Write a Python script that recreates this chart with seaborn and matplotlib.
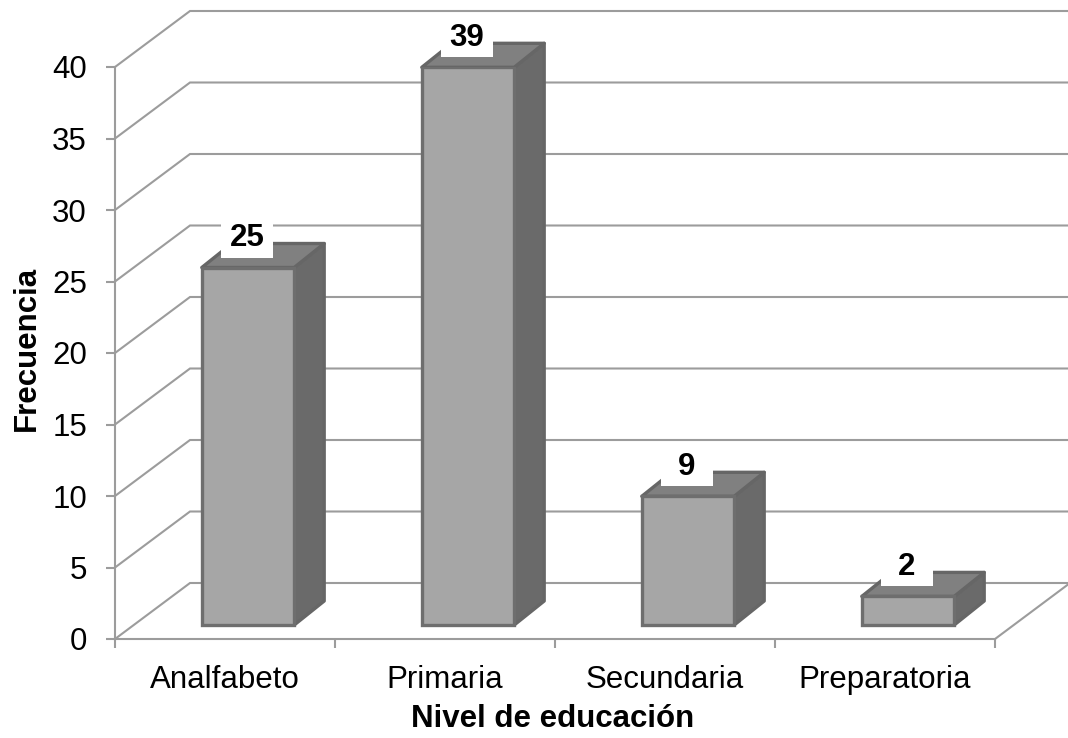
import matplotlib
matplotlib.use("Agg")
import numpy as np
import pandas as pd
import matplotlib.pyplot as plt
import matplotlib.transforms as mtransforms
from matplotlib.lines import Line2D
from matplotlib.patches import Polygon, Rectangle
import seaborn as sns

# Data
categories = ["Analfabeto", "Primaria", "Secundaria", "Preparatoria"]
frecuencias = [25, 39, 9, 2]
y_ticks = [0, 5, 10, 15, 20, 25, 30, 35, 40]

sns.set_theme(style="white")
plt.rcParams["font.family"] = ["Liberation Sans", "DejaVu Sans"]
plt.rcParams["text.color"] = "black"
plt.rcParams["axes.labelcolor"] = "black"

DPI = 100
W, H = 1068, 738
fig = plt.figure(figsize=(W / DPI, H / DPI), dpi=DPI)
fig.patch.set_facecolor("white")

# Front plane of the plot box in pixels
left_px, right_px, bottom_px, top_px = 115, 995, 639, 67
ax = fig.add_axes([left_px / W, (H - bottom_px) / H,
                   (right_px - left_px) / W, (bottom_px - top_px) / H])
ax.set_facecolor("none")

FS = 22.5
line_c = "#9c9c9c"
line_w = 1.5

# Depth of the box (pixels) and bar placement inside it
wall_depth = np.array([75.0, 56.0])
bar_front = np.array([23.0, 14.0])
bar_depth = np.array([30.0, 24.0])

df = pd.DataFrame({"nivel": categories, "frecuencia": frecuencias})
sns.barplot(data=df, x="nivel", y="frecuencia", order=categories,
            width=0.42, color="#a6a6a6", saturation=1, errorbar=None,
            edgecolor="#6e6e6e", linewidth=2.4, ax=ax, zorder=3.2)

ax.set_xlim(-0.5, 3.5)
ax.set_ylim(0, 40)

ident = mtransforms.IdentityTransform()


def to_px(x, y, shift=(0.0, 0.0)):
    p = ax.transData.transform((x, y))
    return p + np.asarray(shift)


# Back wall gridlines and left-wall diagonals
for yv in y_ticks:
    f = to_px(-0.5, yv)
    b = to_px(-0.5, yv, wall_depth)
    br = to_px(3.5, yv, wall_depth)
    ax.add_line(Line2D([f[0], b[0], br[0]], [f[1], b[1], br[1]],
                       transform=ident, color=line_c, lw=line_w,
                       clip_on=False, zorder=0.5, solid_joinstyle="miter"))

# Floor right edge
f = to_px(3.5, 0)
b = to_px(3.5, 0, wall_depth)
ax.add_line(Line2D([f[0], b[0]], [f[1], b[1]], transform=ident,
                   color=line_c, lw=line_w, clip_on=False, zorder=0.5))

# Bars: shift front faces into the box, then add top and side faces
bar_tr = ax.transData + mtransforms.Affine2D().translate(*bar_front)
top_c, side_c, edge_c = "#808080", "#6a6a6a", "#666666"
for patch in ax.patches:
    x0 = patch.get_x()
    x1 = x0 + patch.get_width()
    h = patch.get_height()
    patch.set_transform(bar_tr)
    fl = to_px(x0, h, bar_front)
    fr = to_px(x1, h, bar_front)
    br0 = to_px(x1, 0, bar_front)
    d = bar_depth
    top = Polygon([fl, fr, fr + d, fl + d], closed=True, transform=ident,
                  facecolor=top_c, edgecolor=edge_c, lw=2.4,
                  joinstyle="round", clip_on=False, zorder=3)
    side = Polygon([br0, fr, fr + d, br0 + d], closed=True, transform=ident,
                   facecolor=side_c, edgecolor=edge_c, lw=2.4,
                   joinstyle="round", clip_on=False, zorder=3)
    ax.add_patch(side)
    ax.add_patch(top)

# Value labels on white boxes
box_w, box_h, box_gap = 52, 35, 10
for i, v in enumerate(frecuencias):
    anchor = to_px(i, v, (22, bar_front[1]))
    ax.add_patch(Rectangle((anchor[0] - box_w / 2, anchor[1] + box_gap),
                           box_w, box_h, transform=ident, facecolor="white",
                           edgecolor="none", clip_on=False, zorder=5))
    ax.annotate(str(v), xy=(i, v), xytext=(22, 35), textcoords="offset pixels",
                ha="center", va="baseline", fontsize=FS, fontweight="bold",
                color="black", zorder=6, annotation_clip=False)

# Axes styling
for s in ["top", "right"]:
    ax.spines[s].set_visible(False)
for s in ["left", "bottom"]:
    ax.spines[s].set_color(line_c)
    ax.spines[s].set_linewidth(line_w)
    ax.spines[s].set_zorder(0.6)

ax.set_yticks(y_ticks)
ax.set_yticklabels([str(t) for t in y_ticks])
ax.tick_params(axis="y", which="major", length=6.5, width=line_w,
               color=line_c, direction="out", pad=13.7, labelsize=FS,
               labelcolor="black", left=True)

ax.set_xticks(range(len(categories)))
ax.set_xticklabels(categories)
ax.set_xticks([-0.5, 0.5, 1.5, 2.5, 3.5], minor=True)
ax.tick_params(axis="x", which="major", length=0, pad=19, labelsize=FS,
               labelcolor="black", bottom=True)
ax.tick_params(axis="x", which="minor", length=6.5, width=line_w,
               color=line_c, direction="out", bottom=True)

ax.set_xlabel("Nivel de educación", fontsize=FS, fontweight="bold")
ax.set_ylabel("Frecuencia", fontsize=FS, fontweight="bold")
ax.xaxis.set_label_coords((553 - left_px) / (right_px - left_px),
                          (bottom_px - 704) / (bottom_px - top_px))
ax.yaxis.set_label_coords((42 - left_px) / (right_px - left_px),
                          (bottom_px - 348) / (bottom_px - top_px))

fig.savefig("out.png", dpi=DPI, facecolor="white")
